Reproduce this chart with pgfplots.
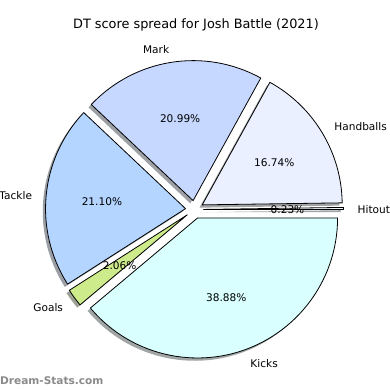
\documentclass[border=0pt]{standalone}
\usepackage{fontspec}
\setmainfont{DejaVu Sans}
\usepackage{pgfplots}
\pgfplotsset{compat=1.18}
\definecolor{cKick}{HTML}{D9FFFF}
\definecolor{cHand}{HTML}{EAF0FF}
\definecolor{cHit}{HTML}{F0F8FF}
\definecolor{cMark}{HTML}{C6D8FF}
\definecolor{cTack}{HTML}{B4D5FF}
\definecolor{cGoal}{HTML}{CDEB8B}
\definecolor{wm}{HTML}{8A8A8A}
\newcommand\lab{\fontsize{10.6}{12}\selectfont}
% pie geometry (axis units = bp)
\def\cx{194.5}\def\cy{180.5}\def\R{140}\def\ex{9}
\def\cum{0}
% #1 percentage, #2 colour, #3 label ; \pass 0 = shadows, 1 = wedges
\newcommand\pieslice[3]{%
  \pgfmathsetmacro\aS{3.6*\cum}%
  \pgfmathsetmacro\aE{3.6*(\cum+#1)}%
  \pgfmathsetmacro\aM{(\aS+\aE)/2}%
  \pgfmathsetmacro\ox{\cx+\ex*cos(\aM)}%
  \pgfmathsetmacro\oy{\cy+\ex*sin(\aM)}%
  \pgfmathsetmacro\sx{\ox+\R*cos(\aS)}%
  \pgfmathsetmacro\sy{\oy+\R*sin(\aS)}%
  \pgfmathsetmacro\shox{\ox-2.8}%
  \pgfmathsetmacro\shoy{\oy-2.8}%
  \pgfmathsetmacro\shsx{\sx-2.8}%
  \pgfmathsetmacro\shsy{\sy-2.8}%
  \pgfmathsetmacro\lx{\ox+1.1*\R*cos(\aM)}%
  \pgfmathsetmacro\ly{\oy+1.1*\R*sin(\aM)-1.2}%
  \pgfmathsetmacro\px{\ox+0.6*\R*cos(\aM)}%
  \pgfmathsetmacro\py{\oy+0.6*\R*sin(\aM)-1.2}%
  \pgfmathtruncatemacro\isright{cos(\aM)>0}%
  \ifnum\isright=1 \def\anc{west}\else\def\anc{east}\fi
  \ifnum\pass=0
    \edef\temp{\noexpand\fill[#2!30!black, fill opacity=0.5]
      (axis cs:\shox,\shoy) -- (axis cs:\shsx,\shsy)
      arc[start angle=\aS, end angle=\aE, radius=140bp] -- cycle;}%
  \else
    \edef\temp{\noexpand\draw[fill=#2, draw=black, line width=0.8bp, line join=round]
      (axis cs:\ox,\oy) -- (axis cs:\sx,\sy)
      arc[start angle=\aS, end angle=\aE, radius=140bp] -- cycle;
      \noexpand\node[anchor=\anc, inner sep=0pt, font=\noexpand\lab] at (axis cs:\lx,\ly) {#3};
      \noexpand\node[inner sep=0pt, font=\noexpand\lab] at (axis cs:\px,\py) {#1\noexpand\%};}%
  \fi
  \temp
  \pgfmathsetmacro\newcum{\cum+#1}\xdef\cum{\newcum}%
}
\newcommand\allslices{%
  \xdef\cum{0}%
  \pieslice{0.23}{cHit}{Hitout}%
  \pieslice{16.74}{cHand}{Handballs}%
  \pieslice{20.99}{cMark}{Mark}%
  \pieslice{21.10}{cTack}{Tackle}%
  \pieslice{2.06}{cGoal}{Goals}%
  \pieslice{38.88}{cKick}{Kicks}%
}
\begin{document}
\begin{tikzpicture}
\begin{axis}[name=ax, width=390bp, height=390bp, scale only axis,
  xmin=0, xmax=390, ymin=0, ymax=390, hide axis, clip=false]
\def\pass{0}\allslices
\def\pass{1}\allslices
\node[font=\fontsize{12.9}{15}\selectfont] at (axis cs:196,365) {DT score spread for Josh Battle (2021)};
\node[anchor=west, inner sep=0pt, text=wm, font=\fontsize{10.6}{12}\selectfont\bfseries] at (axis cs:0,9.5) {Dream-Stats.com};
\end{axis}
\pgfresetboundingbox
\useasboundingbox (ax.south west) rectangle (ax.north east);
\end{tikzpicture}
\end{document}
